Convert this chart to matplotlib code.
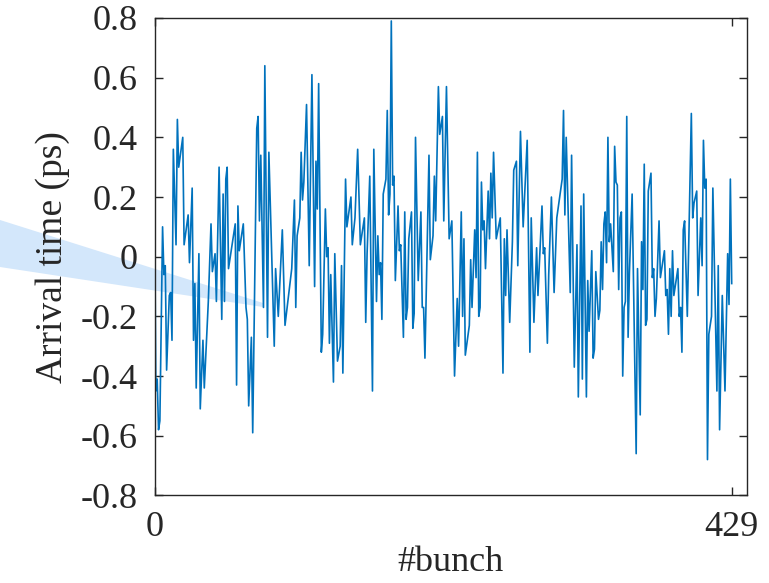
import matplotlib
matplotlib.use("Agg")
import matplotlib.pyplot as plt
from matplotlib.patches import Polygon

# bunch index / arrival time (ps)
bunch = [
    0, 1, 2, 3, 4, 6, 7, 8, 9, 11, 12, 13, 14, 16, 17, 18, 21, 22, 25, 26,
    28, 29, 30, 31, 33, 34, 36, 37, 40, 42, 43, 45, 46, 48, 50, 51, 52, 53, 54, 55,
    60, 61, 62, 63, 66, 68, 69, 70, 72, 73, 76, 77, 78, 79, 81, 82, 84, 85, 89, 90,
    92, 95, 97, 102, 104, 105, 106, 108, 109, 110, 111, 113, 115, 117, 119, 120, 121, 122, 124, 125,
    127, 128, 129, 130, 131, 133, 134, 136, 138, 139, 140, 142, 143, 146, 147, 149, 151, 153, 156, 157,
    158, 160, 162, 163, 165, 166, 167, 168, 169, 170, 172, 173, 174, 175, 176, 177, 178, 179, 181, 182,
    183, 185, 186, 187, 188, 189, 191, 192, 193, 194, 196, 198, 199, 200, 201, 204, 205, 207, 208, 209,
    211, 212, 214, 215, 217, 219, 221, 223, 225, 226, 228, 229, 230, 231, 234, 235, 236, 238, 239, 240,
    241, 242, 243, 244, 245, 246, 248, 249, 250, 251, 252, 254, 257, 259, 260, 261, 262, 264, 266, 267,
    269, 270, 272, 274, 277, 279, 280, 282, 284, 285, 288, 289, 290, 292, 293, 295, 297, 299, 303, 304,
    305, 306, 309, 310, 312, 314, 315, 317, 318, 319, 321, 322, 323, 325, 326, 327, 328, 330, 331, 332,
    333, 334, 335, 336, 337, 338, 339, 341, 342, 343, 344, 345, 346, 347, 348, 349, 350, 351, 352, 353,
    355, 358, 359, 361, 362, 363, 364, 365, 366, 367, 369, 370, 371, 372, 373, 375, 376, 379, 380, 381,
    382, 383, 384, 385, 386, 389, 390, 391, 392, 393, 394, 396, 399, 400, 401, 403, 404, 406, 407, 408,
    409, 410, 411, 412, 414, 415, 418, 419, 420, 422, 424, 426, 427, 428, 429,
]
arrival = [
    0.22, -0.45, -0.41, -0.58, -0.55, 0.10, -0.06, -0.03, -0.38, -0.13, -0.12, -0.28, 0.36, 0.04, 0.46, 0.30, 0.40, 0.04, 0.14, -0.02,
    0.23, -0.28, -0.09, -0.44, 0.01, -0.51, -0.28, -0.44, -0.15, 0.11, -0.05, 0.01, -0.15, 0.30, -0.21, 0.21, -0.15, 0.26, 0.30, -0.04,
    0.11, -0.43, 0.17, 0.02, 0.11, -0.17, -0.21, -0.50, -0.27, -0.59, 0.43, 0.47, 0.12, 0.34, -0.17, 0.64, -0.27, 0.35, -0.30, -0.04,
    -0.20, 0.09, -0.23, -0.04, 0.19, -0.17, 0.07, 0.13, 0.35, 0.19, 0.25, 0.51, -0.03, 0.61, -0.10, 0.32, 0.16, 0.58, -0.32, -0.26,
    0.16, 0.00, 0.03, -0.29, -0.06, -0.42, 0.01, -0.35, -0.30, -0.03, -0.39, 0.26, 0.10, 0.20, 0.04, 0.13, 0.36, 0.04, 0.13, -0.22,
    0.01, 0.27, -0.45, 0.36, -0.15, 0.07, -0.06, -0.02, -0.21, 0.21, 0.26, 0.49, 0.14, 0.21, 0.79, 0.24, 0.27, -0.08, 0.17, 0.02,
    0.04, -0.27, 0.15, -0.21, -0.17, 0.06, 0.15, -0.24, -0.19, 0.40, -0.08, 0.15, -0.17, -0.17, -0.34, 0.34, -0.01, 0.07, 0.27, 0.12,
    0.57, 0.41, 0.47, 0.12, 0.57, 0.06, 0.12, -0.40, -0.14, -0.30, 0.15, -0.20, 0.06, -0.33, -0.23, -0.01, -0.17, 0.09, -0.07, 0.35,
    -0.20, -0.17, 0.25, 0.09, 0.12, -0.04, 0.22, 0.06, 0.28, 0.13, 0.35, 0.06, 0.13, -0.39, 0.06, -0.13, 0.09, -0.22, 0.05, 0.29,
    0.32, -0.03, 0.42, 0.10, 0.39, -0.32, 0.13, -0.22, 0.03, -0.13, 0.17, 0.01, 0.03, -0.29, -0.06, 0.20, -0.12, 0.13, 0.26, 0.49,
    0.14, 0.40, -0.12, 0.34, -0.37, 0.04, -0.47, 0.17, -0.41, 0.21, -0.47, -0.08, -0.25, 0.02, -0.34, -0.31, -0.05, -0.21, -0.18, 0.05,
    -0.11, 0.11, 0.15, -0.02, 0.40, 0.05, 0.11, -0.05, 0.37, 0.25, 0.24, -0.11, 0.13, 0.15, -0.40, -0.17, -0.15, 0.47, -0.27, -0.05,
    0.21, -0.66, -0.04, -0.53, 0.05, -0.11, 0.31, -0.23, -0.21, 0.22, 0.28, -0.07, -0.04, -0.20, -0.14, 0.12, -0.07, 0.02, -0.13, -0.11,
    -0.26, -0.04, -0.20, 0.02, -0.13, -0.04, -0.20, -0.17, -0.32, 0.09, 0.12, -0.20, 0.48, 0.13, 0.18, 0.22, -0.13, 0.13, -0.03, 0.39,
    0.23, 0.26, -0.68, -0.26, -0.20, 0.23, -0.45, -0.03, -0.58, -0.13, -0.45, 0.01, -0.16, 0.26, -0.09,
]

yticks = [-0.8, -0.6, -0.4, -0.2, 0, 0.2, 0.4, 0.6, 0.8]
ytick_labels = ["-0.8", "-0.6", "-0.4", "-0.2", "0", "0.2", "0.4", "0.6", "0.8"]
xticks = [0, 429]

plt.rcParams["font.family"] = ["Liberation Serif", "DejaVu Serif"]

W, H = 769, 583
fig = plt.figure(figsize=(W / 100, H / 100), dpi=100)

# light blue wedge sticking in from the left edge (figure pixel coords, top-down)
wedge_px = [(0, 220), (263, 303), (263, 307), (0, 267)]
wedge = Polygon([(x / W, 1 - y / H) for x, y in wedge_px], closed=True,
                transform=fig.transFigure, facecolor="#d3e7fb",
                edgecolor="none", zorder=-1)
fig.patches.append(wedge)

ax = fig.add_axes([154.5 / W, 1 - 495.4 / H, 592 / W, (495.4 - 18) / H])
ax.patch.set_alpha(0)
ax.plot(bunch, arrival, color="#0072BD", lw=1.2)

ax.set_xlim(0, 440)
ax.set_ylim(-0.8, 0.8)
ax.set_xticks(xticks)
ax.set_xticklabels([str(t) for t in xticks])
ax.set_yticks(yticks)
ax.set_yticklabels(ytick_labels)
ax.tick_params(direction="in", length=6, width=1, colors="#262626",
               labelsize=26, top=True, right=True, pad=12)
ax.tick_params(axis="x", pad=11)
for s in ax.spines.values():
    s.set_color("#262626")
    s.set_linewidth(1.0)

ax.set_xlabel("#bunch", fontsize=26, color="#262626", labelpad=2)
ax.set_ylabel("Arrival time (ps)", fontsize=27, color="#262626", labelpad=8)

fig.savefig("out.png", dpi=100)
